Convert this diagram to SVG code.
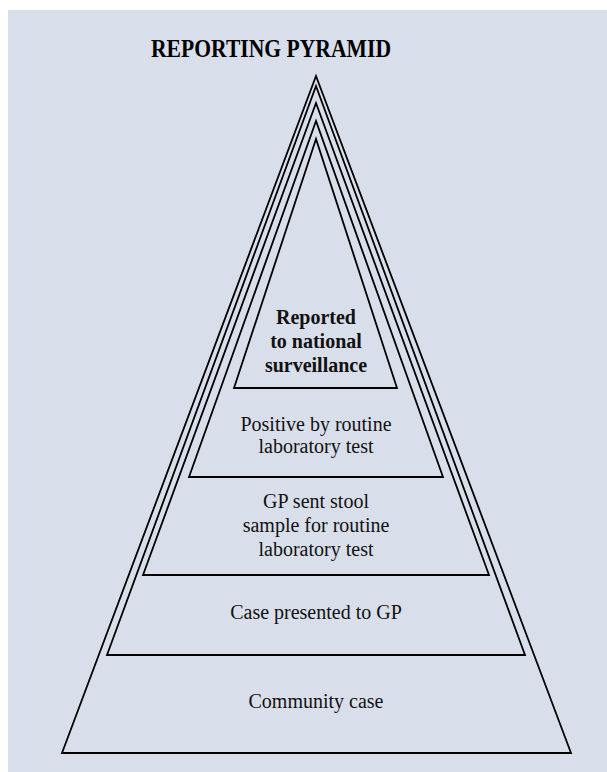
<svg xmlns="http://www.w3.org/2000/svg" width="607" height="772" viewBox="0 0 607 772">
<style>
.tier{fill:none;stroke:#000;stroke-width:1.8;stroke-linejoin:miter}
.lbl{font-family:"Liberation Serif","Times New Roman",serif;font-size:20px;fill:#111;text-anchor:middle}
.b{font-weight:bold}
.title{font-family:"Liberation Serif","Times New Roman",serif;font-size:25px;font-weight:bold;fill:#000;text-anchor:middle}
</style>
<rect x="0" y="0" width="607" height="772" fill="#fff"/>
<rect x="8" y="10" width="599" height="762" fill="#d9dfea"/>
<text class="title" x="271" y="57" textLength="240" lengthAdjust="spacingAndGlyphs">REPORTING PYRAMID</text>
<g id="community">
<polygon class="tier" points="316,76 62,753 571,753"/>
<text class="lbl" x="316" y="708">Community case</text>
</g>
<g id="presented">
<polygon class="tier" points="316,86 107,655 525,655"/>
<text class="lbl" x="316" y="619">Case presented to GP</text>
</g>
<g id="sample">
<polygon class="tier" points="316,103 143,575 489,575"/>
<text class="lbl" x="316" y="508">GP sent stool</text>
<text class="lbl" x="316" y="532">sample for routine</text>
<text class="lbl" x="316" y="556">laboratory test</text>
</g>
<g id="positive">
<polygon class="tier" points="316,121 189,477 443,477"/>
<text class="lbl" x="316" y="431">Positive by routine</text>
<text class="lbl" x="316" y="453">laboratory test</text>
</g>
<g id="reported">
<polygon class="tier" points="316,139 234,388 397,388"/>
<text class="lbl b" x="316" y="324">Reported</text>
<text class="lbl b" x="316" y="348">to national</text>
<text class="lbl b" x="316" y="372">surveillance</text>
</g>
<g id="connectors"></g>
</svg>
